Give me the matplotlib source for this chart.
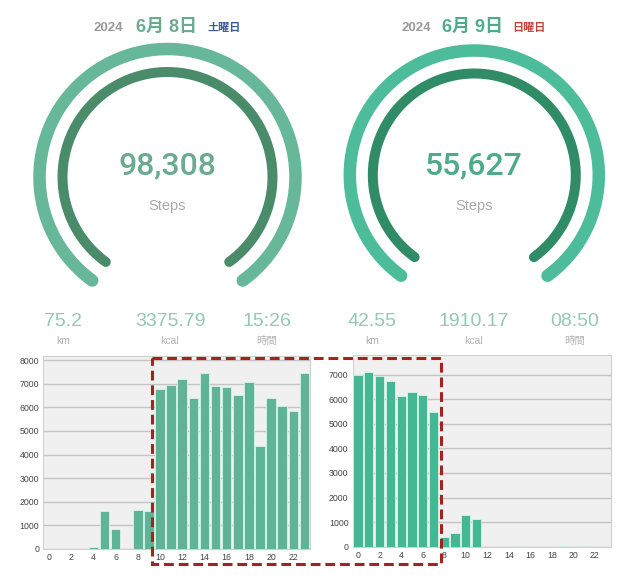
import numpy as np
import matplotlib
matplotlib.use("Agg")
import matplotlib.pyplot as plt
from matplotlib.patches import Rectangle

plt.rcParams['font.family'] = ['Liberation Sans', 'Noto Sans CJK JP', 'DejaVu Sans']

# ---------------- data ----------------
hours = list(range(24))
steps_jun8 = [0, 0, 0, 0, 70, 1620, 860, 0, 1640, 1620, 6770, 6960, 7210, 6410,
              7440, 6910, 6870, 6500, 7060, 4370, 6380, 6050, 5860, 7460]
steps_jun9 = [7000, 7110, 6950, 6740, 6120, 6290, 6190, 5470, 380, 560, 1300, 1130,
              0, 0, 0, 20, 0, 0, 0, 15, 0, 20, 0, 0]
days = ["6月 8日", "6月 9日"]
weekdays = ["土曜日", "日曜日"]
total_steps = ["98,308", "55,627"]
stat_values = [["75.2", "3375.79", "15:26"], ["42.55", "1910.17", "08:50"]]
stat_units = ["km", "kcal", "時間"]

W, H = 640, 580
fig = plt.figure(figsize=(W / 100, H / 100), dpi=100)
fig.patch.set_facecolor('white')

# overlay in pixel coordinates
ov = fig.add_axes([0, 0, 1, 1])
ov.set_xlim(0, W)
ov.set_ylim(H, 0)
ov.axis('off')

gauges = [
    dict(cx=167.5, cy=177, r_out=128, r_in=105, c_out='#67b79a', c_in='#4a8b6a',
         num_c='#6aab8f', wd_c='#3d5a99', hx=[93, 136, 207]),
    dict(cx=474.3, cy=175, r_out=124.5, r_in=101.5, c_out='#4cbc9b', c_in='#2f8c66',
         num_c='#4dab8b', wd_c='#c4453d', hx=[402, 442, 512]),
]
theta = np.radians(np.linspace(-54, 234, 300))
for i, g in enumerate(gauges):
    for r, c, lw in [(g['r_out'], g['c_out'], 12.5), (g['r_in'], g['c_in'], 10)]:
        ov.plot(g['cx'] + r * np.cos(theta), g['cy'] - r * np.sin(theta),
                color=c, lw=lw * 0.72, solid_capstyle='round')
    ov.text(g['cx'], 166, total_steps[i], ha='center', va='center',
            fontsize=23, color=g['num_c'], family=['Roboto', 'Liberation Sans'],
            fontweight='medium')
    ov.text(g['cx'], 206, "Steps", ha='center', va='center', fontsize=10.5,
            color='#a9a9a9')
    ov.text(g['hx'][0], 28, "2024", ha='left', va='center', fontsize=9.5,
            color='#9a9a9a', fontweight='bold')
    ov.text(g['hx'][1], 27, days[i], ha='left', va='center', fontsize=13,
            color=g['num_c'], fontweight='bold')
    ov.text(g['hx'][2], 28, weekdays[i], ha='left', va='center', fontsize=8,
            color=g['wd_c'], fontweight='bold')

stat_x = [[63, 170, 267], [372, 474, 575]]
for i in range(2):
    for j in range(3):
        ov.text(stat_x[i][j], 322, stat_values[i][j], ha='center', va='center',
                fontsize=14, color='#93c8b2')
        ov.text(stat_x[i][j], 341, stat_units[j], ha='center', va='center',
                fontsize=7.5, color='#b3b3b3')

# ---------------- bar charts ----------------
def px_axes(x0, y_top, x1, y_bot):
    return fig.add_axes([x0 / W, 1 - y_bot / H, (x1 - x0) / W, (y_bot - y_top) / H])

charts = [
    (px_axes(43.3, 356, 310, 549), steps_jun8, '#5fb497', 8170, range(0, 8001, 1000)),
    (px_axes(352.7, 355, 611, 546.7), steps_jun9, '#45b794', 7800, range(0, 7001, 1000)),
]
for ax, vals, col, top, yt in charts:
    ax.set_facecolor('#f0f0f0')
    ax.bar(hours, vals, width=0.86, color=col, edgecolor='#d6f5ea', linewidth=0.6,
           zorder=3)
    ax.set_xlim(-0.5, 23.5)
    ax.set_ylim(0, top)
    ax.set_yticks(list(yt))
    ax.set_xticks(list(range(0, 23, 2)))
    ax.grid(axis='y', color='#c4c4c4', lw=1.0, zorder=1)
    ax.tick_params(length=0, labelsize=6.3, labelcolor='#444444', pad=3)
    for s in ax.spines.values():
        s.set_color('#d0d0d0')
        s.set_linewidth(0.8)

# red dashed highlight box
top_ov = fig.add_axes([0, 0, 1, 1], zorder=10)
top_ov.set_xlim(0, W)
top_ov.set_ylim(H, 0)
top_ov.axis('off')
top_ov.patch.set_alpha(0)
top_ov.add_patch(Rectangle((152, 358), 441 - 152, 564 - 358, fill=False,
                           edgecolor='#a3231f', lw=2.2, ls=(0, (3.2, 1.6))))

fig.savefig('out.png', dpi=100)
